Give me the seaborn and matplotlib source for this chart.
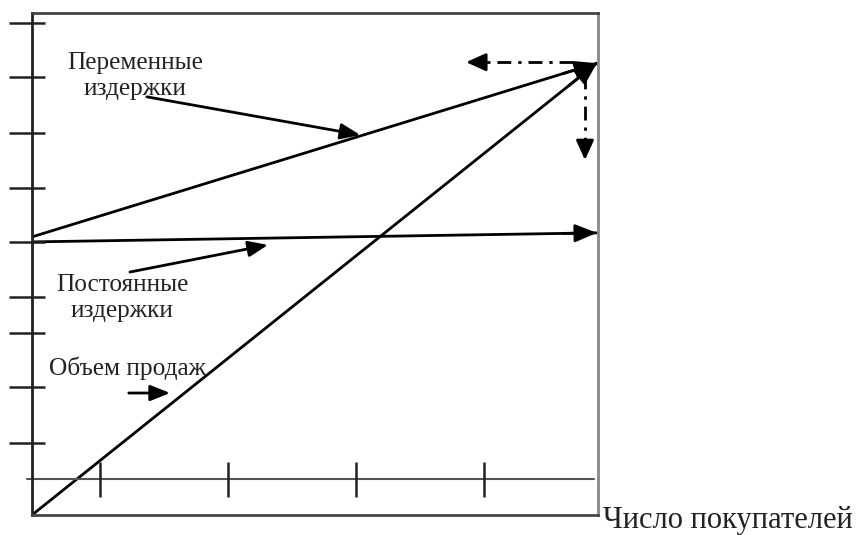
import numpy as np
import pandas as pd
import seaborn as sns
import matplotlib.pyplot as plt

# main lines (x = число покупателей, y = рубли, arbitrary units)
line_x = [0.0, 9.98]
variable_costs = [5.54, 9.00]
fixed_costs = [5.44, 5.62]
sales = [0.0, 9.00]

# axis decorations
x_ticks = [1.20, 3.46, 5.72, 7.99]
y_ticks = [9.80, 8.73, 7.61, 6.51, 5.44, 4.34, 3.63, 2.55, 1.43]
base_level = 0.72

labels = {
    "var": "Переменные\nиздержки",
    "fix": "Постоянные\nиздержки",
    "sales": "Объем продаж",
    "xlabel": "Число покупателей",
}

sns.set_theme(style="white")
plt.rcParams['font.family'] = ['Liberation Serif', 'DejaVu Serif']

fig = plt.figure(figsize=(8.57, 5.35), dpi=100)
ax = fig.add_axes([32 / 857, 20 / 535, 566 / 857, 502 / 535])

df = pd.DataFrame({
    "x": line_x * 3,
    "y": variable_costs + fixed_costs + sales,
    "line": ["var"] * 2 + ["fix"] * 2 + ["sales"] * 2,
})
sns.lineplot(data=df, x="x", y="y", units="line", estimator=None,
             color="black", lw=2, ax=ax, legend=False)

ax.set_xlim(0, 10)
ax.set_ylim(0, 10)
ax.set_xticks([])
ax.set_yticks([])
ax.set_xlabel("")
ax.set_ylabel("")
for side, col in [("left", "#222222"), ("top", "#444444"),
                  ("right", "#888888"), ("bottom", "#444444")]:
    ax.spines[side].set_visible(True)
    ax.spines[side].set_color(col)
    ax.spines[side].set_linewidth(2)

# arrowheads at line ends
head = dict(arrowstyle="-|>,head_length=1.1,head_width=0.45", color="black", lw=2,
            shrinkA=0, shrinkB=0)
for ys in (variable_costs, fixed_costs):
    ax.annotate("", xy=(line_x[1], ys[1]), xytext=(line_x[1] - 0.6, ys[1] - (ys[1] - ys[0]) * 0.06),
                arrowprops=head, annotation_clip=False)
ax.annotate("", xy=(line_x[1], sales[1]), xytext=(line_x[1] - 0.5, sales[1] - 0.45),
            arrowprops=head, annotation_clip=False)

# base line with ticks
ax.plot([-0.09, 9.93], [base_level, base_level], color="#555555", lw=1.5, clip_on=False)
ax.vlines(x_ticks, 0.36, 1.06, color="#222222", lw=1.8)
ax.hlines(y_ticks, -0.41, 0.23, color="#222222", lw=1.8, clip_on=False)

# dash-dot arrows from the top right corner
dash = (0, (5, 2.5, 1.2, 2.5))
ax.plot([9.55, 7.90], [9.02, 9.02], color="black", lw=2, linestyle=dash)
ax.plot([9.77, 9.77], [8.76, 7.35], color="black", lw=2, linestyle=dash)
solid = dict(arrowstyle="-|>,head_length=1.0,head_width=0.45", color="black", lw=2,
             shrinkA=0, shrinkB=0)
ax.annotate("", xy=(7.67, 9.02), xytext=(7.95, 9.02), arrowprops=solid)
ax.annotate("", xy=(9.77, 7.07), xytext=(9.77, 7.40), arrowprops=solid)

# label arrows
lab = dict(arrowstyle="-|>,head_length=1.0,head_width=0.4", color="black", lw=2,
           shrinkA=0, shrinkB=0)
ax.annotate("", xy=(5.80, 7.57), xytext=(2.03, 8.33), arrowprops=lab)
ax.annotate("", xy=(4.17, 5.38), xytext=(1.73, 4.84), arrowprops=lab)
ax.annotate("", xy=(2.44, 2.43), xytext=(1.71, 2.43), arrowprops=lab)

ax.text(1.82, 8.74, labels["var"], ha="center", va="center", fontsize=18.2,
        linespacing=1.22, color="#222222")
ax.text(1.59, 4.32, labels["fix"], ha="center", va="center", fontsize=18.2,
        linespacing=1.22, color="#222222")
ax.text(1.68, 2.93, labels["sales"], ha="center", va="center", fontsize=18.3,
        color="#222222")
ax.text(10.09, -0.10, labels["xlabel"], ha="left", va="center", fontsize=22,
        color="#222222", clip_on=False)

fig.savefig("out.png", dpi=100)
